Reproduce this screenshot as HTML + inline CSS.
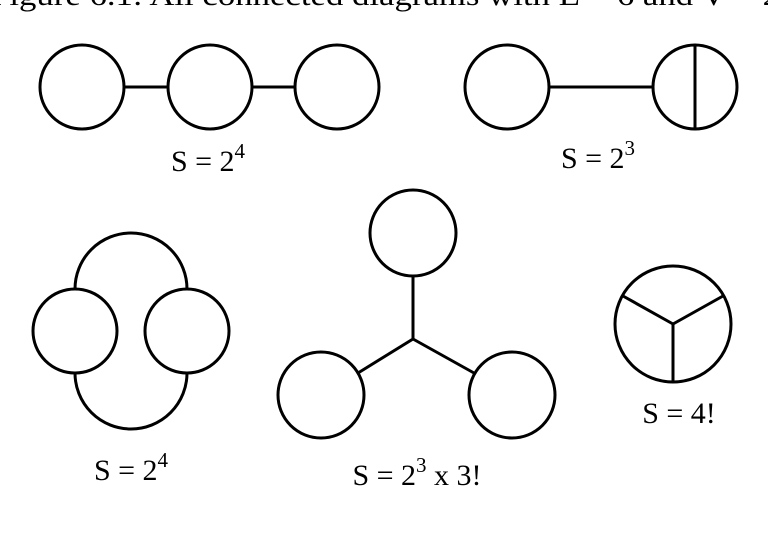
<!DOCTYPE html>
<html><head><style>
html,body{margin:0;padding:0;background:#fff;}
svg{display:block;}
text{font-family:"Liberation Serif",serif;font-size:30px;fill:#000;}
</style></head><body>
<svg width="768" height="539" viewBox="0 0 768 539" xmlns="http://www.w3.org/2000/svg">
<text x="-10" y="5" font-size="31" textLength="790" lengthAdjust="spacingAndGlyphs">Figure 6.1: All connected diagrams with E = 6 and V = 2</text>
<g fill="none" stroke="#000" stroke-width="3">
<circle cx="82" cy="87" r="42"/>
<circle cx="210" cy="87" r="42"/>
<circle cx="337" cy="87" r="42"/>
<line x1="124" y1="87" x2="168" y2="87"/>
<line x1="252" y1="87" x2="295" y2="87"/>
<circle cx="507" cy="87" r="42"/>
<circle cx="695" cy="87" r="42"/>
<line x1="549" y1="87" x2="653" y2="87"/>
<line x1="695" y1="45" x2="695" y2="129"/>
<circle cx="75" cy="331" r="42"/>
<circle cx="187" cy="331" r="42"/>
<path d="M75 289 A56 56 0 0 1 187 289"/>
<path d="M75 373 A56 56 0 0 0 187 373"/>
<circle cx="413" cy="233" r="43"/>
<circle cx="321" cy="395" r="43"/>
<circle cx="512" cy="395" r="43"/>
<line x1="413" y1="276" x2="413" y2="339"/>
<line x1="413" y1="339" x2="358" y2="373"/>
<line x1="413" y1="339" x2="474" y2="373"/>
<circle cx="673" cy="324" r="58"/>
<line x1="673" y1="324" x2="673" y2="382"/>
<line x1="673" y1="324" x2="623" y2="296"/>
<line x1="673" y1="324" x2="723" y2="296"/>
</g>
<text x="208" y="171" text-anchor="middle">S = 2<tspan dy="-13" font-size="21">4</tspan></text>
<text x="598" y="168" text-anchor="middle">S = 2<tspan dy="-13" font-size="21">3</tspan></text>
<text x="131" y="480" text-anchor="middle">S = 2<tspan dy="-13" font-size="21">4</tspan></text>
<text x="417" y="485" text-anchor="middle">S = 2<tspan dy="-13" font-size="21">3</tspan><tspan dy="13"> x 3!</tspan></text>
<text x="679" y="423" text-anchor="middle">S = 4!</text>
</svg>
</body></html>
